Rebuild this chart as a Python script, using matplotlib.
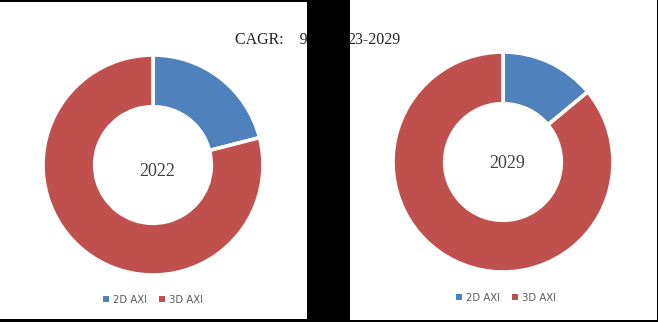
import matplotlib.pyplot as plt
from matplotlib.patches import Rectangle, Patch

W, H = 658, 322

categories = ['2D AXI', '3D AXI']
share_2022 = [21, 79]
share_2029 = [14, 86]
years = ['2022', '2029']
colors = ['#4F81BD', '#C0504D']

fig = plt.figure(figsize=(W / 100, H / 100), dpi=100, facecolor='black')

# white panels (pixel coords, origin bottom-left)
fig.patches.append(Rectangle((0 / W, 3 / H), 307 / W, 317 / H, transform=fig.transFigure,
                             facecolor='white', edgecolor='none', zorder=-10))
fig.patches.append(Rectangle((350 / W, 2 / H), 307 / W, 320 / H, transform=fig.transFigure,
                             facecolor='white', edgecolor='none', zorder=-10))


def donut(cx, cy, r, values, label, lab_dx, lab_dy, leg_x, leg_y):
    ax = fig.add_axes([(cx - r) / W, (cy - r) / H, 2 * r / W, 2 * r / H])
    ax.pie(values, colors=colors, startangle=90, counterclock=False,
           radius=1, wedgeprops=dict(width=0.47, edgecolor='white', linewidth=2.6))
    ax.set_xlim(-1, 1)
    ax.set_ylim(-1, 1)
    ax.set_aspect('equal')
    ax.axis('off')
    ax.text(lab_dx, lab_dy, label, ha='center', va='center', fontsize=13,
            family='Liberation Serif', color='#404040')
    handles = [Patch(facecolor=c, edgecolor='none') for c in colors]
    fig.legend(handles, categories, loc='center', bbox_to_anchor=(leg_x / W, leg_y / H),
               ncol=2, frameon=False, fontsize=7.3, handlelength=0.55, handleheight=0.55,
               handletextpad=0.4, columnspacing=1.2, labelcolor='#595959')


donut(153, 157, 110, share_2022, years[0], 0.04, -0.06, 153, 22)
donut(503, 160, 110, share_2029, years[1], 0.04, -0.01, 506, 24)

fig.text(235 / W, 282 / H, 'CAGR:    9.', fontsize=11.5, family='Liberation Serif',
         color='#222222', va='center', ha='left')
fig.text(347 / W, 282 / H, '23-2029', fontsize=11.5, family='Liberation Serif',
         color='#222222', va='center', ha='left')
# black strip between the panels hides the middle of the CAGR text
fig.patches.append(Rectangle((307 / W, 0), 43 / W, 1, transform=fig.transFigure,
                             facecolor='black', edgecolor='none', zorder=5))

fig.savefig('out.png', dpi=100, facecolor='black')
